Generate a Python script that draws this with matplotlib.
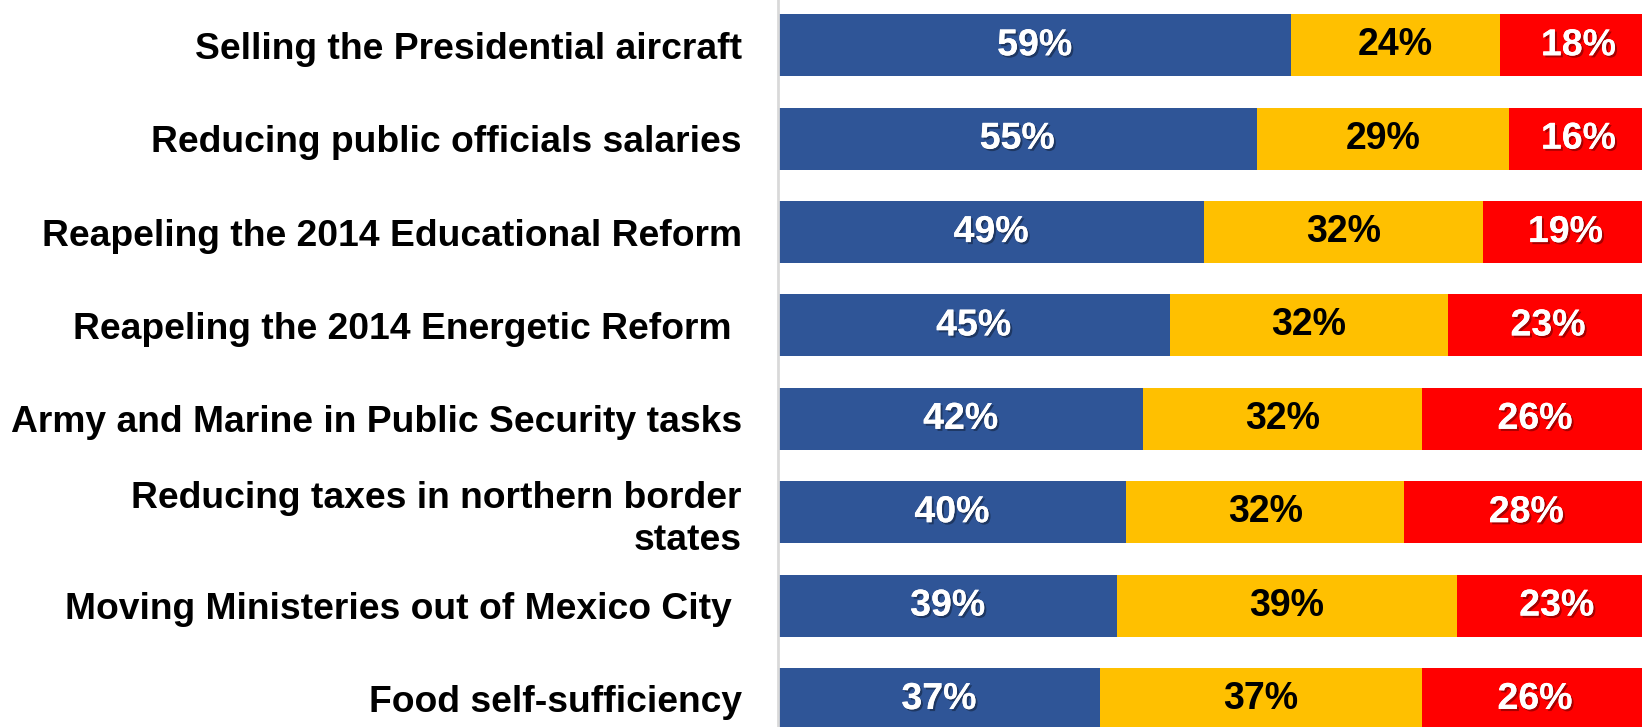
import matplotlib.pyplot as plt
import matplotlib.patheffects as pe
import numpy as np

plt.rcParams['font.family'] = ['Liberation Sans', 'DejaVu Sans']

categorias = [
    "Selling the Presidential aircraft",
    "Reducing public officials salaries",
    "Reapeling the 2014 Educational Reform",
    "Reapeling the 2014 Energetic Reform ",
    "Army and Marine in Public Security tasks",
    "Reducing taxes in northern border\nstates",
    "Moving Ministeries out of Mexico City ",
    "Food self-sufficiency",
]
a_favor = [59, 55, 49, 45, 42, 40, 39, 37]
neutral = [24, 29, 32, 32, 32, 32, 39, 37]
en_contra = [18, 16, 19, 23, 26, 28, 23, 26]

colores = ["#2F5597", "#FFC000", "#FF0000"]
color_texto = ["white", "black", "white"]


def grafica():
    fig = plt.figure(figsize=(16.42, 7.27), dpi=100)
    ax = fig.add_axes([778 / 1642, 0, 1 - 778 / 1642, 1])

    y = np.arange(len(categorias))
    izquierda = np.zeros(len(categorias))
    series = [a_favor, neutral, en_contra]
    sombra = [pe.withSimplePatchShadow(offset=(1.5, -1.5), shadow_rgbFace="black", alpha=0.35), pe.Normal()]

    for valores, color, ctext in zip(series, colores, color_texto):
        valores = np.array(valores, dtype=float)
        ax.barh(y, valores, left=izquierda, height=0.665, color=color, edgecolor="none")
        for yi, xi, v in zip(y, izquierda, valores):
            t = ax.text(xi + v / 2, yi, f"{int(v)}%", ha="center", va="center",
                        fontsize=27, fontweight="bold", color=ctext)
            if ctext == "white":
                t.set_path_effects(sombra)
        izquierda += valores

    ax.set_xlim(0, 99.3)
    ax.set_ylim(7.3, -0.485)
    ax.set_yticks(y)
    ax.set_yticklabels(categorias, fontsize=26.8, fontweight="bold", ha="right",
                       linespacing=1.25)
    ax.tick_params(axis="y", length=0, pad=26)
    ax.set_xticks([])
    for lado in ["top", "right", "bottom"]:
        ax.spines[lado].set_visible(False)
    ax.spines["left"].set_color("#D9D9D9")
    ax.spines["left"].set_linewidth(2)

    fig.savefig("out.png", dpi=100)


if __name__ == "__main__":
    grafica()
